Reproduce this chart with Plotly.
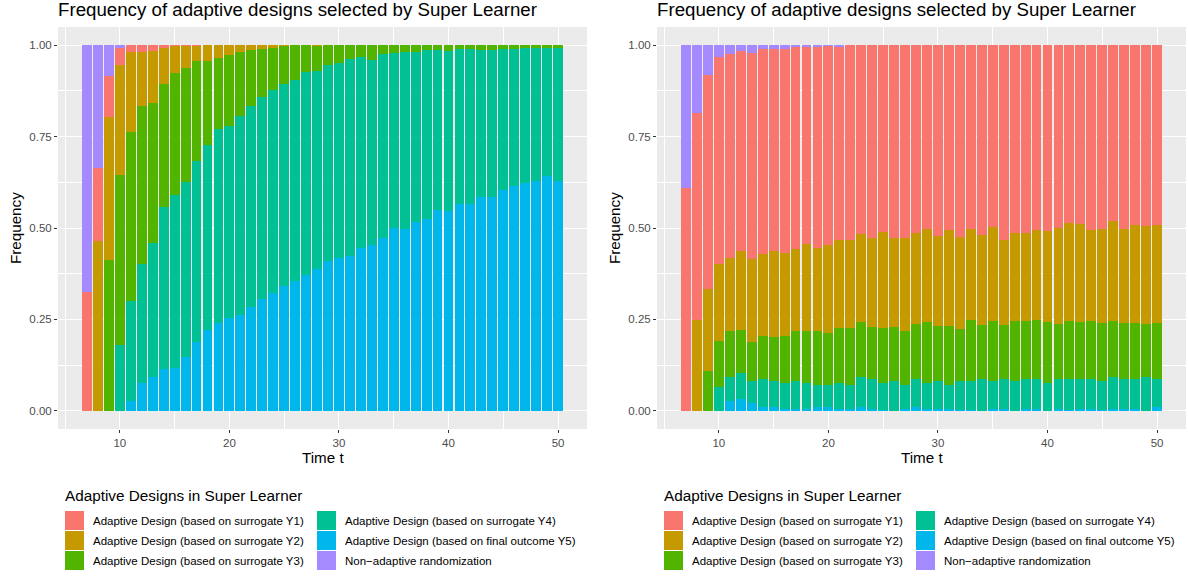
import plotly.graph_objects as go

t = list(range(7, 51))

series_names = [
    "Adaptive Design (based on surrogate Y1)",
    "Adaptive Design (based on surrogate Y2)",
    "Adaptive Design (based on surrogate Y3)",
    "Adaptive Design (based on surrogate Y4)",
    "Adaptive Design (based on final outcome Y5)",
    "Non\u2212adaptive randomization",
]
colors = ["#F8766D", "#C49A00", "#53B400", "#00C094", "#00B6EB", "#A58AFF"]

# ---- Left panel ----
left_non = [0.674, 0.335, 0.084, 0.007] + [0] * 40
left_y1 = [0.326, 0.2, 0.113, 0.048, 0.018, 0.018, 0.016, 0.007, 0.002, 0.002, 0.002] + [0] * 33
left_y2 = [0, 0.465, 0.39, 0.30, 0.219, 0.148, 0.142, 0.099, 0.074, 0.06, 0.042, 0.044, 0.035,
           0.027, 0.018, 0.013, 0.011, 0.007, 0.002, 0, 0, 0.002] + [0] * 22
left_y3 = [0, 0, 0.413, 0.465, 0.4625, 0.432, 0.383, 0.337, 0.333, 0.311, 0.273, 0.229, 0.195,
           0.193, 0.175, 0.153, 0.131, 0.115, 0.104, 0.095, 0.073, 0.069, 0.055, 0.049, 0.038,
           0.033, 0.04, 0.024, 0.022, 0.018, 0.018, 0.013, 0.013, 0.016, 0.011, 0.011, 0.013,
           0.013, 0.011, 0.011, 0.007, 0.007, 0.007, 0.007]
left_y4 = [0, 0, 0, 0.18, 0.275, 0.327, 0.368, 0.444, 0.473, 0.481, 0.494, 0.505, 0.531, 0.525,
           0.545, 0.55, 0.552, 0.556, 0.552, 0.55, 0.555, 0.541, 0.535, 0.532, 0.538, 0.521,
           0.506, 0.502, 0.477, 0.485, 0.465, 0.462, 0.437, 0.438, 0.422, 0.422, 0.402, 0.402,
           0.384, 0.373, 0.37, 0.365, 0.35, 0.365]
left_y5 = [0, 0, 0, 0, 0.0255, 0.075, 0.091, 0.113, 0.118, 0.146, 0.189, 0.222, 0.239, 0.255,
           0.262, 0.284, 0.306, 0.322, 0.342, 0.355, 0.372, 0.388, 0.41, 0.419, 0.424, 0.446,
           0.454, 0.474, 0.501, 0.497, 0.517, 0.525, 0.55, 0.546, 0.567, 0.567, 0.585, 0.585,
           0.605, 0.616, 0.623, 0.628, 0.643, 0.628]

# ---- Right panel ----
right_non = [0.39, 0.186, 0.082, 0.033, 0.024, 0.016, 0.022, 0.011, 0.011, 0.011, 0.0055, 0.0055,
             0.0055, 0.002, 0.0055] + [0] * 29
right_y1 = [0.61, 0.5645, 0.5847, 0.564, 0.557, 0.5466, 0.563, 0.559, 0.552, 0.5573, 0.5519,
            0.5375, 0.5482, 0.5444, 0.5265, 0.532, 0.5155, 0.5264, 0.51, 0.5264, 0.5264, 0.5137,
            0.503, 0.521, 0.5045, 0.5246, 0.503, 0.519, 0.4973, 0.532, 0.5137, 0.5137, 0.5045,
            0.5082, 0.4991, 0.4863, 0.488, 0.5045, 0.503, 0.481, 0.503, 0.492, 0.494, 0.492]
right_y2 = [0, 0.2495, 0.2258, 0.2116, 0.2004, 0.215, 0.2256, 0.2242, 0.2366, 0.2259, 0.224,
            0.2384, 0.2277, 0.2405, 0.2403, 0.2403, 0.2405, 0.2441, 0.2623, 0.2441, 0.255, 0.2477,
            0.2526, 0.246, 0.2625, 0.2514, 0.2475, 0.246, 0.2567, 0.2334, 0.2403, 0.2403, 0.2461,
            0.2478, 0.2623, 0.2677, 0.268, 0.2495, 0.2566, 0.273, 0.2566, 0.2676, 0.2674, 0.2676]
right_y3 = [0, 0, 0.1075, 0.1272, 0.1257, 0.1182, 0.1074, 0.1202, 0.1204, 0.1311, 0.1386, 0.1421,
            0.1494, 0.1421, 0.1512, 0.1567, 0.1511, 0.1421, 0.1512, 0.1495, 0.1476, 0.153, 0.1675,
            0.153, 0.162, 0.142, 0.1675, 0.1494, 0.164, 0.1476, 0.166, 0.1586, 0.162, 0.1675,
            0.1512, 0.1586, 0.1584, 0.1604, 0.1584, 0.155, 0.1548, 0.153, 0.1476, 0.1548]
right_y4 = [0, 0, 0, 0.0638, 0.0674, 0.0728, 0.062, 0.0766, 0.069, 0.0692, 0.076, 0.071, 0.0602,
            0.062, 0.0725, 0.067, 0.0839, 0.0834, 0.0745, 0.08, 0.067, 0.0766, 0.071, 0.076, 0.067,
            0.08, 0.08, 0.0856, 0.078, 0.0834, 0.08, 0.0834, 0.0834, 0.0765, 0.0834, 0.0854,
            0.0801, 0.0801, 0.08, 0.087, 0.0816, 0.0834, 0.091, 0.0766]
right_y5 = [0, 0, 0, 0, 0.0255, 0.031, 0.02, 0.009, 0.011, 0.0055, 0.004, 0.0055, 0.009, 0.009,
            0.004, 0.004, 0.009, 0.004, 0.002, 0, 0.004, 0.009, 0.0055, 0.004, 0.004, 0.002,
            0.002, 0, 0.004, 0.004, 0, 0.004, 0.004, 0, 0.004, 0.002, 0.0055, 0.0055, 0.002,
            0.004, 0.004, 0.004, 0, 0.009]

title_text = "Frequency of adaptive designs selected by Super Learner"
legend_title = "Adaptive Designs in Super Learner"
x_title = "Time t"
y_title = "Frequency"
y_ticks = [0, 0.25, 0.5, 0.75, 1.0]
y_ticklabels = ["0.00", "0.25", "0.50", "0.75", "1.00"]
x_ticks = [10, 20, 30, 40, 50]

W, H = 1188, 577
FONT = "Liberation Sans, Arial, Helvetica, sans-serif"

fig = go.Figure()

panels = [
    ("x", "y", [left_y1, left_y2, left_y3, left_y4, left_y5, left_non]),
    ("x2", "y2", [right_y1, right_y2, right_y3, right_y4, right_y5, right_non]),
]

# stack order bottom->top: Y5, Y4, Y3, Y2, Y1, Non-adaptive
stack_order = [4, 3, 2, 1, 0, 5]
for xa, ya, data in panels:
    for i in stack_order:
        fig.add_trace(go.Bar(
            x=t, y=data[i], name=series_names[i], xaxis=xa, yaxis=ya,
            marker=dict(color=colors[i], line=dict(width=0)),
            width=0.9, showlegend=False,
        ))


def px_x(v):
    return v / W


def px_y(v):
    return 1 - v / H


axis_common = dict(
    showgrid=True, gridcolor="white", gridwidth=1.3, zeroline=False,
    ticks="outside", ticklen=3, tickwidth=1, tickcolor="#333333",
    tickfont=dict(family=FONT, size=11.5, color="#4D4D4D"),
    showline=False, automargin=False,
)

for k, off in [("", 0), ("2", 599)]:
    fig.layout["xaxis" + k] = dict(
        axis_common,
        domain=[px_x(58 + off), px_x(587 + off)],
        range=[4.355, 52.645], tickvals=x_ticks,
        minor=dict(tickvals=[5, 15, 25, 35, 45], showgrid=True, gridcolor="white", gridwidth=0.6, ticks=""),
        anchor="y" + k,
    )
    fig.layout["yaxis" + k] = dict(
        axis_common,
        domain=[px_y(429), px_y(27)],
        range=[-0.05, 1.05], tickvals=y_ticks, ticktext=y_ticklabels,
        minor=dict(tickvals=[0.125, 0.375, 0.625, 0.875], showgrid=True, gridcolor="white", gridwidth=0.6, ticks=""),
        anchor="x" + k,
    )

annotations = []
shapes = []
for off in [0, 599]:
    # panel background
    shapes.append(dict(type="rect", xref="paper", yref="paper", layer="below",
                       x0=px_x(58 + off), x1=px_x(587 + off), y0=px_y(429), y1=px_y(27),
                       fillcolor="#EBEBEB", line=dict(width=0)))
    annotations.append(dict(text=title_text, xref="paper", yref="paper",
                            x=px_x(56 + off), y=px_y(10), xanchor="left", yanchor="middle",
                            showarrow=False, font=dict(family=FONT, size=18.7, color="black")))
    annotations.append(dict(text=x_title, xref="paper", yref="paper",
                            x=px_x(322.5 + off), y=px_y(457), xanchor="center", yanchor="middle",
                            showarrow=False, font=dict(family=FONT, size=15.2, color="black")))
    annotations.append(dict(text=y_title, xref="paper", yref="paper",
                            x=px_x(15 + off), y=px_y(228), xanchor="center", yanchor="middle",
                            textangle=-90, showarrow=False,
                            font=dict(family=FONT, size=15.2, color="black")))
    # legend
    annotations.append(dict(text=legend_title, xref="paper", yref="paper",
                            x=px_x(63 + off), y=px_y(495), xanchor="left", yanchor="middle",
                            showarrow=False, font=dict(family=FONT, size=15.3, color="black")))
    for idx in range(6):
        col, row = divmod(idx, 3)
        kx = 65 + off + col * 252
        ky = 511 + row * 20
        shapes.append(dict(type="rect", xref="paper", yref="paper",
                           x0=px_x(kx), x1=px_x(kx + 19), y0=px_y(ky + 19), y1=px_y(ky),
                           fillcolor=colors[idx], line=dict(width=0)))
        annotations.append(dict(text=series_names[idx], xref="paper", yref="paper",
                                x=px_x(kx + 26), y=px_y(ky + 9.8), xanchor="left", yanchor="middle",
                                showarrow=False, font=dict(family=FONT, size=11.5, color="black")))

fig.update_layout(
    width=W, height=H, barmode="stack", bargap=0.1,
    margin=dict(l=0, r=0, t=0, b=0),
    paper_bgcolor="white", plot_bgcolor="rgba(0,0,0,0)",
    template="none", showlegend=False,
    annotations=annotations, shapes=shapes,
)

fig.write_html("out.html", config={"displayModeBar": False},
               post_script="document.body.style.margin='0';document.body.style.overflow='hidden';")
